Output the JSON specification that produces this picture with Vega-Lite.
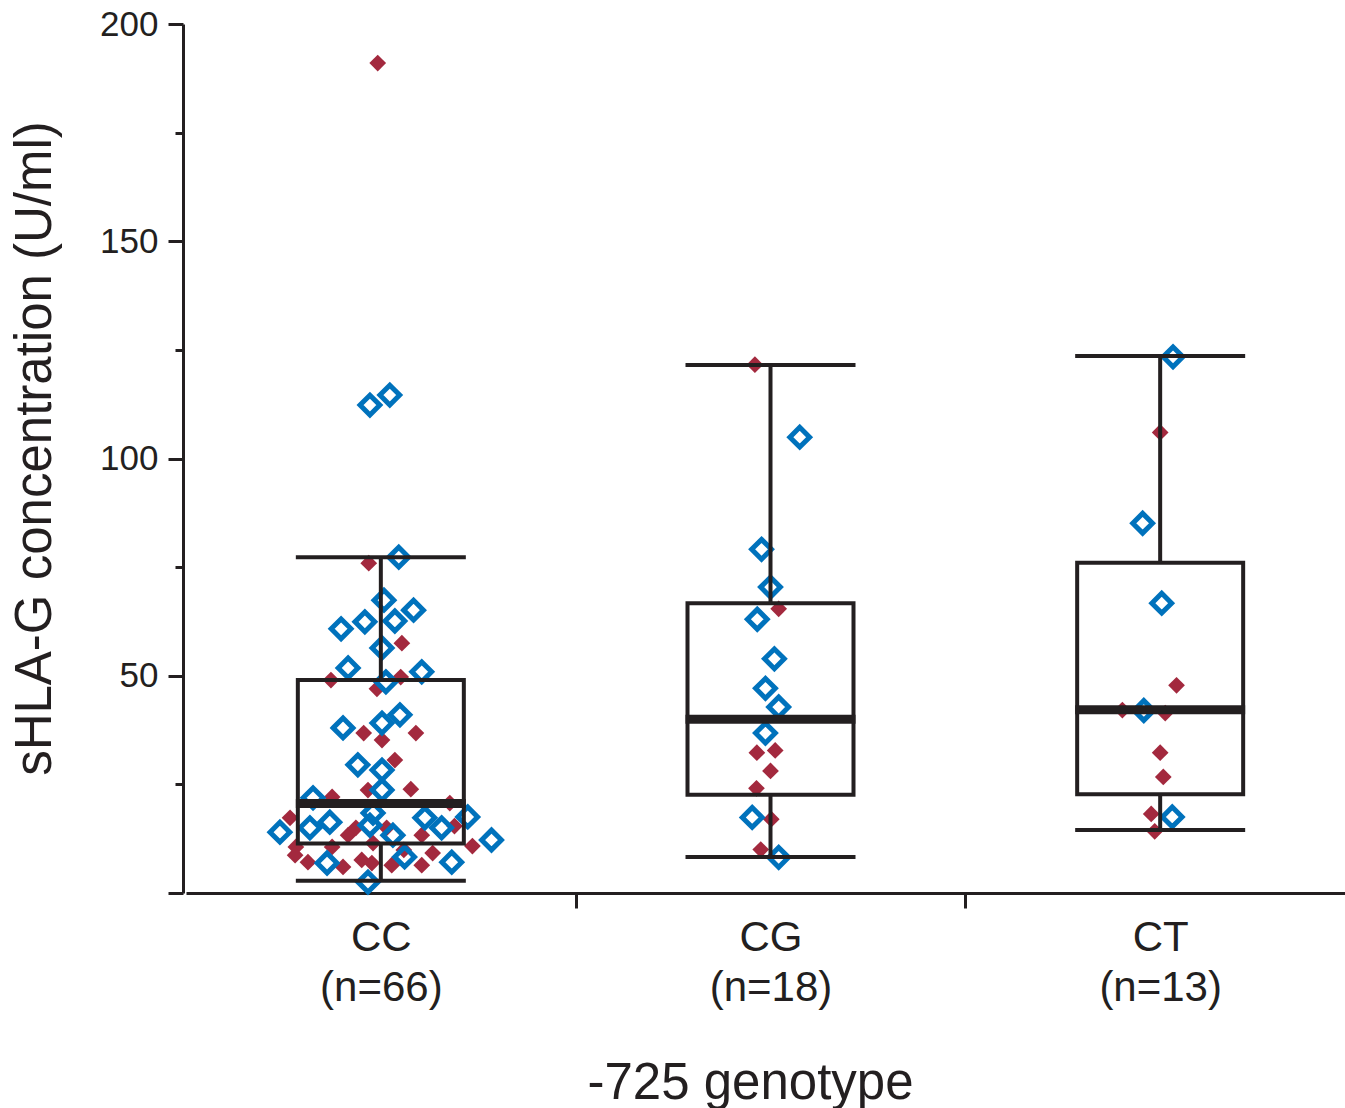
{
  "$schema": "https://vega.github.io/schema/vega-lite/v6.json",
  "autosize": {"type": "none"},
  "padding": {"left": 183, "top": 24, "right": 0, "bottom": 215},
  "width": 1162,
  "height": 869,
  "background": "white",
  "config": {"view": {"stroke": null}, "font": "Liberation Sans", "axis": {"grid": false}},
  "datasets": {
    "points": [
      {"genotype": "CC", "group": "B", "value": 191.0, "jitter": -0.008},
      {"genotype": "CC", "group": "B", "value": 75.9, "jitter": -0.031},
      {"genotype": "CC", "group": "B", "value": 57.5, "jitter": 0.054},
      {"genotype": "CC", "group": "B", "value": 49.0, "jitter": -0.128},
      {"genotype": "CC", "group": "B", "value": 49.7, "jitter": 0.051},
      {"genotype": "CC", "group": "B", "value": 47.0, "jitter": -0.010},
      {"genotype": "CC", "group": "B", "value": 36.8, "jitter": -0.044},
      {"genotype": "CC", "group": "B", "value": 35.2, "jitter": 0.003},
      {"genotype": "CC", "group": "B", "value": 36.8, "jitter": 0.090},
      {"genotype": "CC", "group": "B", "value": 30.6, "jitter": 0.036},
      {"genotype": "CC", "group": "B", "value": 23.7, "jitter": -0.033},
      {"genotype": "CC", "group": "B", "value": 23.9, "jitter": 0.077},
      {"genotype": "CC", "group": "B", "value": 22.1, "jitter": -0.125},
      {"genotype": "CC", "group": "B", "value": 20.7, "jitter": 0.177},
      {"genotype": "CC", "group": "B", "value": 17.3, "jitter": -0.233},
      {"genotype": "CC", "group": "B", "value": 13.3, "jitter": -0.084},
      {"genotype": "CC", "group": "B", "value": 15.0, "jitter": 0.015},
      {"genotype": "CC", "group": "B", "value": 15.4, "jitter": 0.189},
      {"genotype": "CC", "group": "B", "value": 13.3, "jitter": 0.105},
      {"genotype": "CC", "group": "B", "value": 10.8, "jitter": 0.235},
      {"genotype": "CC", "group": "B", "value": 10.6, "jitter": -0.218},
      {"genotype": "CC", "group": "B", "value": 8.7, "jitter": -0.220},
      {"genotype": "CC", "group": "B", "value": 10.6, "jitter": -0.125},
      {"genotype": "CC", "group": "B", "value": 7.1, "jitter": -0.187},
      {"genotype": "CC", "group": "B", "value": 6.0, "jitter": -0.097},
      {"genotype": "CC", "group": "B", "value": 7.6, "jitter": -0.049},
      {"genotype": "CC", "group": "B", "value": 6.9, "jitter": -0.023},
      {"genotype": "CC", "group": "B", "value": 6.4, "jitter": 0.028},
      {"genotype": "CC", "group": "B", "value": 6.4, "jitter": 0.105},
      {"genotype": "CC", "group": "B", "value": 9.2, "jitter": 0.133},
      {"genotype": "CC", "group": "B", "value": 11.5, "jitter": -0.020},
      {"genotype": "CC", "group": "B", "value": 15.0, "jitter": -0.064},
      {"genotype": "CC", "group": "B", "value": 9.9, "jitter": 0.059},
      {"genotype": "CC", "group": "A", "value": 112.3, "jitter": -0.028},
      {"genotype": "CC", "group": "A", "value": 114.6, "jitter": 0.023},
      {"genotype": "CC", "group": "A", "value": 77.3, "jitter": 0.046},
      {"genotype": "CC", "group": "A", "value": 67.4, "jitter": 0.008},
      {"genotype": "CC", "group": "A", "value": 65.1, "jitter": 0.084},
      {"genotype": "CC", "group": "A", "value": 62.4, "jitter": -0.041},
      {"genotype": "CC", "group": "A", "value": 62.6, "jitter": 0.036},
      {"genotype": "CC", "group": "A", "value": 60.8, "jitter": -0.102},
      {"genotype": "CC", "group": "A", "value": 56.4, "jitter": 0.003},
      {"genotype": "CC", "group": "A", "value": 51.8, "jitter": -0.084},
      {"genotype": "CC", "group": "A", "value": 50.9, "jitter": 0.105},
      {"genotype": "CC", "group": "A", "value": 48.6, "jitter": 0.013},
      {"genotype": "CC", "group": "A", "value": 38.0, "jitter": -0.097},
      {"genotype": "CC", "group": "A", "value": 39.1, "jitter": 0.003},
      {"genotype": "CC", "group": "A", "value": 41.0, "jitter": 0.049},
      {"genotype": "CC", "group": "A", "value": 29.5, "jitter": -0.059},
      {"genotype": "CC", "group": "A", "value": 28.3, "jitter": 0.003},
      {"genotype": "CC", "group": "A", "value": 23.7, "jitter": 0.003},
      {"genotype": "CC", "group": "A", "value": 21.9, "jitter": -0.174},
      {"genotype": "CC", "group": "A", "value": 18.4, "jitter": -0.020},
      {"genotype": "CC", "group": "A", "value": 17.3, "jitter": 0.113},
      {"genotype": "CC", "group": "A", "value": 17.5, "jitter": 0.223},
      {"genotype": "CC", "group": "A", "value": 16.3, "jitter": -0.131},
      {"genotype": "CC", "group": "A", "value": 15.0, "jitter": -0.182},
      {"genotype": "CC", "group": "A", "value": 14.0, "jitter": -0.259},
      {"genotype": "CC", "group": "A", "value": 15.6, "jitter": -0.028},
      {"genotype": "CC", "group": "A", "value": 15.0, "jitter": 0.156},
      {"genotype": "CC", "group": "A", "value": 13.3, "jitter": 0.031},
      {"genotype": "CC", "group": "A", "value": 12.2, "jitter": 0.284},
      {"genotype": "CC", "group": "A", "value": 6.9, "jitter": -0.138},
      {"genotype": "CC", "group": "A", "value": 8.3, "jitter": 0.061},
      {"genotype": "CC", "group": "A", "value": 7.1, "jitter": 0.182},
      {"genotype": "CC", "group": "A", "value": 2.5, "jitter": -0.033},
      {"genotype": "CG", "group": "B", "value": 121.6, "jitter": -0.040},
      {"genotype": "CG", "group": "B", "value": 65.4, "jitter": 0.021},
      {"genotype": "CG", "group": "B", "value": 32.3, "jitter": -0.035},
      {"genotype": "CG", "group": "B", "value": 32.8, "jitter": 0.012},
      {"genotype": "CG", "group": "B", "value": 28.1, "jitter": 0.0},
      {"genotype": "CG", "group": "B", "value": 24.1, "jitter": -0.036},
      {"genotype": "CG", "group": "B", "value": 17.0, "jitter": 0.002},
      {"genotype": "CG", "group": "B", "value": 10.0, "jitter": -0.025},
      {"genotype": "CG", "group": "A", "value": 104.9, "jitter": 0.075},
      {"genotype": "CG", "group": "A", "value": 79.1, "jitter": -0.023},
      {"genotype": "CG", "group": "A", "value": 70.4, "jitter": 0.0},
      {"genotype": "CG", "group": "A", "value": 63.0, "jitter": -0.034},
      {"genotype": "CG", "group": "A", "value": 53.9, "jitter": 0.010},
      {"genotype": "CG", "group": "A", "value": 47.1, "jitter": -0.013},
      {"genotype": "CG", "group": "A", "value": 42.8, "jitter": 0.021},
      {"genotype": "CG", "group": "A", "value": 36.8, "jitter": -0.013},
      {"genotype": "CG", "group": "A", "value": 17.4, "jitter": -0.047},
      {"genotype": "CG", "group": "A", "value": 8.2, "jitter": 0.021},
      {"genotype": "CT", "group": "B", "value": 106.0, "jitter": 0.0},
      {"genotype": "CT", "group": "B", "value": 47.8, "jitter": 0.042},
      {"genotype": "CT", "group": "B", "value": 42.1, "jitter": -0.097},
      {"genotype": "CT", "group": "B", "value": 41.4, "jitter": 0.013},
      {"genotype": "CT", "group": "B", "value": 32.3, "jitter": 0.0},
      {"genotype": "CT", "group": "B", "value": 26.7, "jitter": 0.008},
      {"genotype": "CT", "group": "B", "value": 18.2, "jitter": -0.023},
      {"genotype": "CT", "group": "B", "value": 14.2, "jitter": -0.014},
      {"genotype": "CT", "group": "A", "value": 123.4, "jitter": 0.033},
      {"genotype": "CT", "group": "A", "value": 85.1, "jitter": -0.045},
      {"genotype": "CT", "group": "A", "value": 66.7, "jitter": 0.004},
      {"genotype": "CT", "group": "A", "value": 42.0, "jitter": -0.042},
      {"genotype": "CT", "group": "A", "value": 17.5, "jitter": 0.031}
    ],
    "boxes": [
      {"genotype": "CC", "lower": 2.8, "q1": 11.4, "median": 20.6, "q3": 49.0, "upper": 77.3},
      {"genotype": "CG", "lower": 8.3, "q1": 22.6, "median": 40.0, "q3": 66.7, "upper": 121.5},
      {"genotype": "CT", "lower": 14.5, "q1": 22.7, "median": 42.2, "q3": 76.0, "upper": 123.6}
    ]
  },
  "encoding": {
    "x": {
      "field": "genotype",
      "type": "nominal",
      "scale": {"domain": ["CC", "CG", "CT"], "range": [3, 1172], "paddingInner": 0, "paddingOuter": 0},
      "title": "-725 genotype",
      "axis": {
        "labelAngle": 0,
        "domainColor": "#231f20",
        "domainWidth": 3,
        "tickOffset": 194.8,
        "labelOffset": -194.8,
        "tickSize": 15,
        "tickWidth": 3,
        "tickColor": "#231f20",
        "labelFontSize": 42,
        "labelColor": "#231f20",
        "labelPadding": 9,
        "labelLineHeight": 50,
        "labelExpr": "datum.label === 'CC' ? ['CC', '(n=66)'] : datum.label === 'CG' ? ['CG', '(n=18)'] : datum.label === 'CT' ? ['CT', '(n=13)'] : ''",
        "titleFontSize": 51,
        "titleFontWeight": "normal",
        "titleColor": "#231f20",
        "titlePadding": 50,
        "titleX": 567
      }
    },
    "y": {
      "type": "quantitative",
      "scale": {"domain": [0, 200], "nice": false},
      "title": "sHLA-G concentration (U/ml)",
      "axis": {
        "values": [0, 25, 50, 75, 100, 125, 150, 175, 200],
        "labelExpr": "datum.value % 50 === 0 && datum.value > 0 ? datum.label : ''",
        "domainColor": "#231f20",
        "domainWidth": 3,
        "tickColor": "#231f20",
        "tickWidth": 3,
        "tickSize": {"condition": {"test": "datum.value % 50 === 0", "value": 15}, "value": 8},
        "labelFontSize": 35,
        "labelColor": "#231f20",
        "labelPadding": 10,
        "titleFontSize": 51,
        "titleFontWeight": "normal",
        "titleColor": "#231f20",
        "titlePadding": 38,
        "titleY": 424
      }
    }
  },
  "layer": [
    {
      "data": {"name": "points"},
      "transform": [{"filter": "datum.group === 'B'"}],
      "mark": {"type": "point", "shape": "diamond", "filled": true, "size": 280, "color": "#a3293e", "opacity": 1, "strokeWidth": 0},
      "encoding": {
        "xOffset": {"field": "jitter", "type": "quantitative", "scale": {"domain": [-0.5, 0.5]}},
        "y": {"field": "value", "type": "quantitative"}
      }
    },
    {
      "data": {"name": "points"},
      "transform": [{"filter": "datum.group === 'A'"}],
      "mark": {"type": "point", "shape": "diamond", "filled": false, "size": 390, "color": "#0072bc", "opacity": 1, "strokeWidth": 5},
      "encoding": {
        "xOffset": {"field": "jitter", "type": "quantitative", "scale": {"domain": [-0.5, 0.5]}},
        "y": {"field": "value", "type": "quantitative"}
      }
    },
    {
      "data": {"name": "boxes"},
      "mark": {"type": "rule", "color": "#231f20", "strokeWidth": 4},
      "encoding": {"y": {"field": "lower", "type": "quantitative"}, "y2": {"field": "q1"}}
    },
    {
      "data": {"name": "boxes"},
      "mark": {"type": "rule", "color": "#231f20", "strokeWidth": 4},
      "encoding": {"y": {"field": "q3", "type": "quantitative"}, "y2": {"field": "upper"}}
    },
    {
      "data": {"name": "boxes"},
      "mark": {"type": "bar", "width": 166, "fill": "transparent", "stroke": "#231f20", "strokeWidth": 4},
      "encoding": {"y": {"field": "q1", "type": "quantitative"}, "y2": {"field": "q3"}}
    },
    {
      "data": {"name": "boxes"},
      "mark": {"type": "tick", "size": 170, "thickness": 4, "color": "#231f20", "opacity": 1},
      "encoding": {"y": {"field": "lower", "type": "quantitative"}}
    },
    {
      "data": {"name": "boxes"},
      "mark": {"type": "tick", "size": 170, "thickness": 4, "color": "#231f20", "opacity": 1},
      "encoding": {"y": {"field": "upper", "type": "quantitative"}}
    },
    {
      "data": {"name": "boxes"},
      "mark": {"type": "tick", "size": 170, "thickness": 9, "color": "#231f20", "opacity": 1},
      "encoding": {"y": {"field": "median", "type": "quantitative"}}
    }
  ]
}
